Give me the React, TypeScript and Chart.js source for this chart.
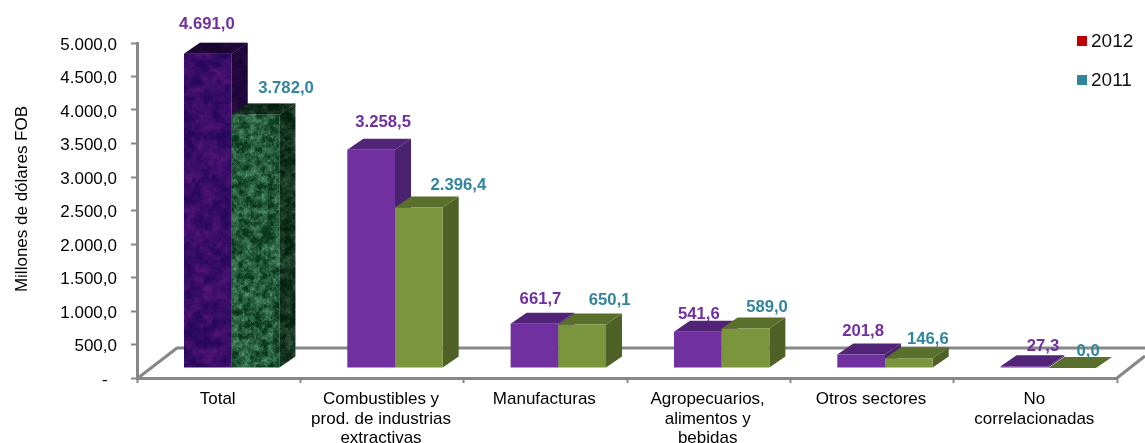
import React, { useEffect, useRef } from "react";
import { Chart, registerables } from "chart.js";

Chart.register(...registerables);

const categories = [
  "Total",
  ["Combustibles y", "prod. de industrias", "extractivas"],
  "Manufacturas",
  ["Agropecuarios,", "alimentos y", "bebidas"],
  "Otros sectores",
  ["No", "correlacionadas"],
];
const values2012 = [4691.0, 3258.5, 661.7, 541.6, 201.8, 27.3];
const values2011 = [3782.0, 2396.4, 650.1, 589.0, 146.6, 0.0];
const yTicks: Record<number, string> = {
  0: "-  ",
  500: "500,0",
  1000: "1.000,0",
  1500: "1.500,0",
  2000: "2.000,0",
  2500: "2.500,0",
  3000: "3.000,0",
  3500: "3.500,0",
  4000: "4.000,0",
  4500: "4.500,0",
  5000: "5.000,0",
};
const labels2012 = ["4.691,0", "3.258,5", "661,7", "541,6", "201,8", "27,3"];
const labels2011 = ["3.782,0", "2.396,4", "650,1", "589,0", "146,6", "0,0"];

const FONT = '"Liberation Sans", Arial, sans-serif';
const AXIS = "#878787";
const DX = 16;
const DY = 11;
const LIFT = 10;
const SHIFT = 13;
const LABEL_DROP = 2;

// Hand-placed label nudges, as in the source chart [dx, dy from front-top centre]
const nudges2012 = [[-1, -31], [12, -29], [6, -26], [1, -19], [2, -25], [18.5, -22]];
const nudges2011 = [[30.5, -28], [39.5, -24], [27.5, -26], [21.5, -23], [19, -21], [16, -19]];

const series = [
  { face: "#7030A0", top: "#512478", side: "#4A2270", text: "#7030A0", nudges: nudges2012, labels: labels2012 },
  { face: "#7A953B", top: "#5A6F2C", side: "#4F6127", text: "#31859C", nudges: nudges2011, labels: labels2011 },
];

function smooth(t: number) {
  return t * t * (3 - 2 * t);
}
function hash(x: number, y: number, s: number) {
  const v = Math.sin(x * 127.1 + y * 311.7 + s * 74.7) * 43758.5453;
  return v - Math.floor(v);
}
function noise(x: number, y: number, s: number) {
  const xi = Math.floor(x), yi = Math.floor(y);
  const fx = smooth(x - xi), fy = smooth(y - yi);
  const a = hash(xi, yi, s), b = hash(xi + 1, yi, s), c = hash(xi, yi + 1, s), d = hash(xi + 1, yi + 1, s);
  return a + (b - a) * fx + (c - a) * fy + (a - b - c + d) * fx * fy;
}
function fbm(x: number, y: number, s: number) {
  return noise(x, y, s) * 0.45 + noise(x * 2.1, y * 2.1, s + 1) * 0.33 + noise(x * 4.3, y * 4.3, s + 2) * 0.22;
}
function marble(w: number, h: number, seed: number, dark: number[], light: number[], gain: number, scale: number) {
  const c = document.createElement("canvas");
  c.width = w;
  c.height = h;
  const g = c.getContext("2d")!;
  const img = g.createImageData(w, h);
  for (let y = 0; y < h; y++) {
    for (let x = 0; x < w; x++) {
      const n = fbm(x / scale, y / scale, seed);
      const vein = 1 - Math.min(1, Math.abs(fbm(x / (scale * 0.7) + 7, y / scale, seed + 5) - 0.5) * 14);
      const t = Math.max(0, Math.min(1, (n - 0.3) * 1.4 + vein * gain));
      const i = (y * w + x) * 4;
      for (let k = 0; k < 3; k++) img.data[i + k] = dark[k] + (light[k] - dark[k]) * t;
      img.data[i + 3] = 255;
    }
  }
  g.putImageData(img, 0, 0);
  return c;
}

function poly(ctx: CanvasRenderingContext2D, pts: number[][], fill: any) {
  ctx.beginPath();
  pts.forEach((p, i) => (i ? ctx.lineTo(p[0], p[1]) : ctx.moveTo(p[0], p[1])));
  ctx.closePath();
  ctx.fillStyle = fill;
  ctx.fill();
}

export default function App() {
  const ref = useRef<HTMLCanvasElement>(null);
  useEffect(() => {
    const canvas = ref.current!;
    const ctx0 = canvas.getContext("2d")!;
    const textures = [
      ctx0.createPattern(marble(300, 443, 3, [40, 8, 92], [96, 24, 130], 0.05, 9), "repeat")!,
      ctx0.createPattern(marble(300, 443, 9, [8, 54, 28], [92, 160, 116], 0.25, 6), "repeat")!,
    ];
    const scene = {
      id: "scene",
      beforeDatasetsDraw(chart: any) {
        const { ctx, chartArea: a } = chart;
        // floor of the 3D box
        ctx.save();
        ctx.strokeStyle = AXIS;
        ctx.lineWidth = 3;
        ctx.lineJoin = "bevel";
        ctx.beginPath();
        ctx.moveTo(a.left + 1, a.bottom);
        ctx.lineTo(177, 348);
        ctx.lineTo(1145, 348);
        ctx.moveTo(a.right, a.bottom);
        ctx.lineTo(1145, 356);
        ctx.stroke();
        // bars
        const n = chart.data.labels.length;
        for (let i = 0; i < n; i++) {
          for (let d = 0; d < chart.data.datasets.length; d++) {
            const el = chart.getDatasetMeta(d).data[i];
            const s = series[d];
            const x = el.x - el.width / 2 + SHIFT;
            const w = el.width;
            const y = el.y - LIFT;
            const b = el.base - LIFT;
            const topPts = [[x, y], [x + DX, y - DY], [x + w + DX, y - DY], [x + w, y]];
            const sidePts = [[x + w, y], [x + w + DX, y - DY], [x + w + DX, b - DY], [x + w, b]];
            const frontPts = [[x, y], [x + w, y], [x + w, b], [x, b]];
            if (i === 0) {
              poly(ctx, sidePts, textures[d]);
              poly(ctx, sidePts, "rgba(0,0,0,0.42)");
              poly(ctx, topPts, textures[d]);
              poly(ctx, topPts, "rgba(0,0,0,0.5)");
              poly(ctx, frontPts, textures[d]);
            } else {
              poly(ctx, sidePts, s.side);
              poly(ctx, topPts, s.top);
              if (y < b) poly(ctx, frontPts, s.face);
            }
          }
        }
        ctx.restore();
      },
      beforeDatasetDraw() {
        return false;
      },
      afterDatasetsDraw(chart: any) {
        const { ctx } = chart;
        ctx.save();
        ctx.font = `bold 16.7px ${FONT}`;
        ctx.textAlign = "center";
        ctx.textBaseline = "middle";
        chart.data.datasets.forEach((_: any, d: number) => {
          const s = series[d];
          chart.getDatasetMeta(d).data.forEach((el: any, i: number) => {
            ctx.fillStyle = s.text;
            ctx.fillText(s.labels[i], el.x + SHIFT + s.nudges[i][0], el.y - LIFT + s.nudges[i][1] + LABEL_DROP);
          });
        });
        ctx.restore();
      },
      afterDraw(chart: any) {
        const { ctx } = chart;
        ctx.save();
        // y axis title
        ctx.translate(22, 199);
        ctx.rotate(-Math.PI / 2);
        ctx.font = `17px ${FONT}`;
        ctx.fillStyle = "#000";
        ctx.textAlign = "center";
        ctx.textBaseline = "middle";
        ctx.fillText("Millones de dólares FOB", 0, 0);
        ctx.restore();
        // legend
        ctx.save();
        ctx.font = `19px ${FONT}`;
        ctx.textBaseline = "middle";
        ctx.textAlign = "left";
        chart.data.datasets.forEach((ds: any, d: number) => {
          const cy = 41 + d * 39;
          ctx.fillStyle = ds.backgroundColor;
          ctx.fillRect(1077, cy - 5, 10, 10);
          ctx.fillStyle = "#111";
          ctx.fillText(ds.label, 1091, cy + 1);
        });
        ctx.restore();
      },
    };
    const chart = new Chart(canvas, {
      type: "bar",
      data: {
        labels: categories as any,
        datasets: [
          { label: "2012", data: values2012, backgroundColor: "#C00000", categoryPercentage: 0.584, barPercentage: 1 },
          { label: "2011", data: values2011, backgroundColor: "#31859C", categoryPercentage: 0.584, barPercentage: 1 },
        ],
      },
      options: {
        responsive: false,
        animation: false,
        devicePixelRatio: 1,
        layout: { padding: { top: 43, right: 28, left: 0, bottom: 0 } },
        plugins: { legend: { display: false }, tooltip: { enabled: false } },
        scales: {
          x: {
            afterFit(s: any) {
              s.height = 65;
            },
            border: { color: AXIS, width: 3 },
            grid: { drawOnChartArea: false, drawTicks: true, tickLength: 5, tickColor: AXIS, tickWidth: 2 },
            ticks: {
              autoSkip: false,
              maxRotation: 0,
              minRotation: 0,
              padding: 7,
              labelOffset: -1,
              color: "#000",
              font: { family: FONT, size: 17, lineHeight: 1.13 },
            },
          },
          y: {
            min: 0,
            max: 5000,
            afterFit(s: any) {
              s.width = 137;
            },
            border: { color: AXIS, width: 3 },
            grid: { drawOnChartArea: false, drawTicks: true, tickLength: 6, tickColor: AXIS, tickWidth: 2 },
            ticks: {
              stepSize: 500,
              padding: 14,
              labelOffset: 2,
              color: "#000",
              font: { family: FONT, size: 17 },
              callback: (v: any) => yTicks[v as number] ?? "",
            },
          },
        },
      },
      plugins: [scene as any],
    });
    return () => chart.destroy();
  }, []);
  return (
    <div style={{ position: "absolute", left: 0, top: 0, width: 1145, height: 443 }}>
      <canvas ref={ref} width={1145} height={443} style={{ display: "block", width: 1145, height: 443 }} />
    </div>
  );
}
